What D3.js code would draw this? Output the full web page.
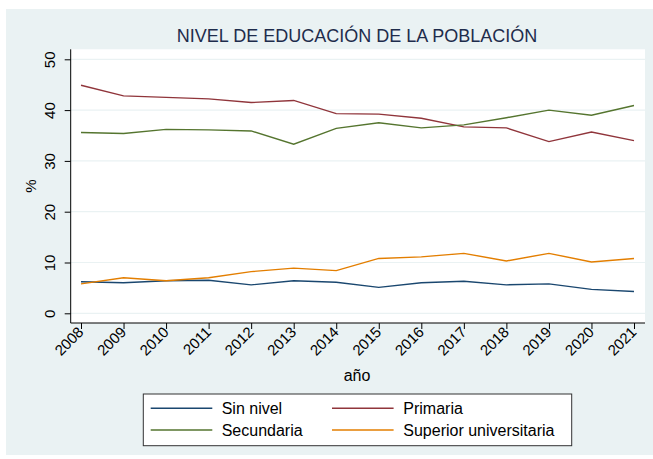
<!DOCTYPE html>
<html lang="es">
<head>
<meta charset="UTF-8">
<title>Nivel de educación de la población</title>
<style>
  body { margin: 0; background: #fff; }
  svg { display: block; font-family: "Liberation Sans", Arial, sans-serif; }
  .axis path, .axis line { stroke: #000; }
  .axis text { fill: #000; font-size: 15px; }
</style>
<script src="https://d3js.org/d3.v7.min.js"></script>
</head>
<body>
<svg id="chart" width="653" height="459"></svg>
<script>
const years = [2008, 2009, 2010, 2011, 2012, 2013, 2014, 2015, 2016, 2017, 2018, 2019, 2020, 2021];
const sinNivel = [6.2, 6.0, 6.4, 6.5, 5.6, 6.4, 6.1, 5.1, 6.0, 6.3, 5.6, 5.8, 4.7, 4.3];
const primaria = [44.9, 42.8, 42.5, 42.2, 41.5, 41.9, 39.3, 39.2, 38.4, 36.7, 36.5, 33.8, 35.7, 34.0];
const secundaria = [35.6, 35.4, 36.2, 36.1, 35.9, 33.3, 36.4, 37.5, 36.5, 37.1, 38.5, 40.0, 39.0, 40.9];
const superior = [5.8, 7.0, 6.4, 7.0, 8.2, 8.9, 8.4, 10.8, 11.1, 11.8, 10.3, 11.8, 10.1, 10.8];
const yTicks = [0, 10, 20, 30, 40, 50];

const series = [
  { name: "Sin nivel", values: sinNivel, color: "#1a476f" },
  { name: "Primaria", values: primaria, color: "#90353b" },
  { name: "Secundaria", values: secundaria, color: "#55752f" },
  { name: "Superior universitaria", values: superior, color: "#e37e00" }
];

const svg = d3.select("#chart");

// fondo exterior
svg.append("rect")
  .attr("x", 6).attr("y", 9)
  .attr("width", 647).attr("height", 446)
  .attr("fill", "#eaf2f3");

const plot = { left: 70.7, right: 645, top: 49.3, bottom: 323 };

svg.append("rect")
  .attr("x", plot.left).attr("y", plot.top)
  .attr("width", plot.right - plot.left).attr("height", plot.bottom - plot.top)
  .attr("fill", "#fff");

const x = d3.scaleLinear().domain([2008, 2021]).range([81, 634]);
const y = d3.scaleLinear().domain([0, 50]).range([313.3, 59.3]);

// rejilla
svg.append("g").selectAll("line")
  .data(yTicks)
  .join("line")
  .attr("x1", plot.left).attr("x2", plot.right)
  .attr("y1", d => y(d)).attr("y2", d => y(d))
  .attr("stroke", "#eaf2f3").attr("stroke-width", 1.2);

// eje y
const yAxis = svg.append("g")
  .attr("class", "axis")
  .attr("transform", `translate(${plot.left},0)`)
  .call(d3.axisLeft(y).tickValues(yTicks).tickSize(6).tickSizeOuter(0));
yAxis.select(".domain").attr("d", `M0,${plot.top}V${plot.bottom}`);
yAxis.selectAll("text")
  .attr("x", null).attr("dy", null)
  .attr("text-anchor", "middle")
  .attr("transform", "translate(-16,0) rotate(-90)");

// eje x
const xAxis = svg.append("g")
  .attr("class", "axis")
  .attr("transform", `translate(0,${plot.bottom})`)
  .call(d3.axisBottom(x).tickValues(years).tickFormat(d3.format("d")).tickSize(6).tickSizeOuter(0));
xAxis.select(".domain").attr("d", `M${plot.left},0H${plot.right}`);
xAxis.selectAll("text")
  .attr("y", null).attr("dy", null)
  .attr("text-anchor", "end")
  .attr("transform", "translate(3,10) rotate(-45)");

// líneas
const line = d3.line()
  .x((d, i) => x(years[i]))
  .y(d => y(d));

series.forEach(s => {
  svg.append("path")
    .datum(s.values)
    .attr("d", line)
    .attr("fill", "none")
    .attr("stroke", s.color)
    .attr("stroke-width", 1.4);
});

// títulos
svg.append("text")
  .attr("x", 357).attr("y", 42)
  .attr("text-anchor", "middle")
  .attr("font-size", "18px")
  .attr("fill", "#1e2c4c")
  .text("NIVEL DE EDUCACIÓN DE LA POBLACIÓN");

svg.append("text")
  .attr("transform", "translate(36,186) rotate(-90)")
  .attr("text-anchor", "middle")
  .attr("font-size", "15px")
  .text("%");

svg.append("text")
  .attr("x", 357).attr("y", 381)
  .attr("text-anchor", "middle")
  .attr("font-size", "16px")
  .text("año");

// leyenda
const legend = svg.append("g");
legend.append("rect")
  .attr("x", 143.3).attr("y", 394)
  .attr("width", 428.4).attr("height", 51.7)
  .attr("fill", "#fff").attr("stroke", "#333").attr("stroke-width", 1);

const legendPos = [
  { lx: 150.7, tx: 221.7, ty: 408.3 },
  { lx: 332, tx: 403.3, ty: 408.3 },
  { lx: 150.7, tx: 221.7, ty: 430 },
  { lx: 332, tx: 403.3, ty: 430 }
];

series.forEach((s, i) => {
  const p = legendPos[i];
  legend.append("line")
    .attr("x1", p.lx).attr("x2", p.lx + 61.6)
    .attr("y1", p.ty).attr("y2", p.ty)
    .attr("stroke", s.color).attr("stroke-width", 1.4);
  legend.append("text")
    .attr("x", p.tx).attr("y", p.ty)
    .attr("dy", "0.35em")
    .attr("font-size", "16px")
    .text(s.name);
});
</script>
</body>
</html>
